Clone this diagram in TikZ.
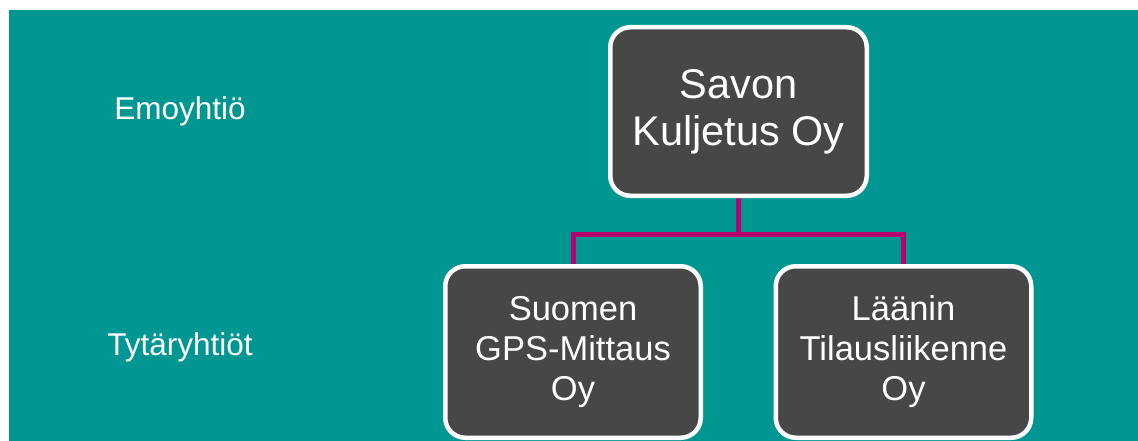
\documentclass[tikz,border=0pt]{standalone}
\usepackage{fontspec}
\setmainfont{Liberation Sans}
\usepackage{xcolor}
\usepackage{tikz}
\usetikzlibrary{positioning,backgrounds}

\definecolor{tealbg}{HTML}{009691}
\definecolor{boxgray}{HTML}{474747}
\definecolor{linkmag}{HTML}{B5006F}

\begin{document}
\begin{tikzpicture}[x=1pt, y=-1pt,
    company/.style={rectangle, draw=white, line width=4.5pt, fill=boxgray, rounded corners=20pt, text=white, align=center, inner sep=0pt},
    parent/.style={company, minimum width=256.5pt, minimum height=168.5pt, font=\fontsize{41.5}{47}\selectfont},
    child/.style={company, minimum width=255.5pt, minimum height=171.5pt, font=\fontsize{34.5}{40}\selectfont},
    level/.style={text=white, anchor=base, font=\fontsize{31.5}{36}\selectfont},
    link/.style={draw=linkmag, line width=5pt}
]
\useasboundingbox (0,0) rectangle (1138,441);

\node[parent] (savon) at (738.5,111.5) {Savon\\Kuljetus Oy};
\node[child] (gps) at (573,352) {Suomen\\GPS-Mittaus\\Oy};
\node[child] (laani) at (903.5,352) {Läänin\\Tilausliikenne\\Oy};

\node[level] (emo) at (180,120) {Emoyhtiö};
\node[level] (tytar) at (180,355) {Tytäryhtiöt};

\begin{scope}[on background layer]
\fill[tealbg] (9,10) rectangle (1138,441);
\draw[link] (savon.south) -- ++(0,36) -| (gps.north);
\draw[link] (savon.south) -- ++(0,36) -| (laani.north);
\end{scope}

\end{tikzpicture}
\end{document}
